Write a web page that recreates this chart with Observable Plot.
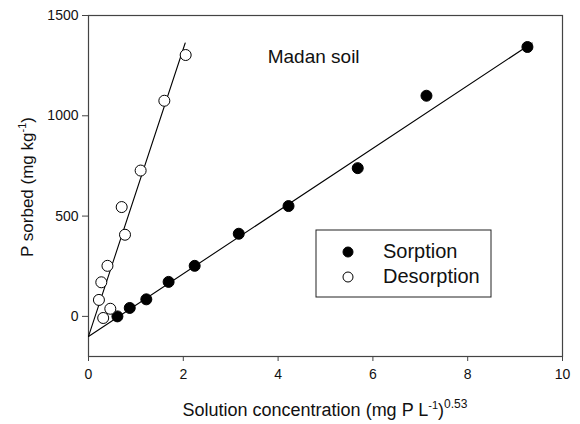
<!DOCTYPE html>
<html>
<head>
<meta charset="utf-8">
<script src="https://cdn.jsdelivr.net/npm/d3@7"></script>
<script src="https://cdn.jsdelivr.net/npm/@observablehq/plot@0.6"></script>
<style>
  html, body { margin: 0; padding: 0; background: #fff; }
  svg { font-family: "Liberation Sans", Arial, sans-serif; }
</style>
</head>
<body>
<div id="chart"></div>
<script>
// Data
const sorptionX = [0.61, 0.87, 1.22, 1.69, 2.24, 3.17, 4.22, 5.68, 7.13, 9.26];
const sorptionY = [0, 42, 85, 172, 252, 412, 550, 739, 1100, 1343];
const desorptionX = [0.31, 0.46, 0.22, 0.27, 0.40, 0.77, 0.70, 1.10, 1.60, 2.05];
const desorptionY = [-8, 38, 82, 170, 252, 407, 545, 727, 1075, 1303];
// Fitted lines: [intercept, slope, xEnd]
const sorptionFit = [-100, 156.3, 9.36];
const desorptionFit = [-100, 717, 2.04];
const xTicks = [0, 2, 4, 6, 8, 10];
const yTicks = [0, 500, 1000, 1500];
const seriesNames = ["Sorption", "Desorption"];
const titleText = "Madan soil";

const sorption = sorptionX.map((x, i) => ({x, y: sorptionY[i]}));
const desorption = desorptionX.map((x, i) => ({x, y: desorptionY[i]}));
const fitLine = ([b, m, xe]) => [{x: 0, y: b}, {x: xe, y: b + m * xe}];

const W = 580, H = 424;
const chart = Plot.plot({
  width: W, height: H,
  marginLeft: 88, marginRight: 18, marginTop: 15, marginBottom: 68,
  style: {fontFamily: '"Liberation Sans", Arial, sans-serif', background: "#fff"},
  x: {domain: [0, 10]},
  y: {domain: [-200, 1500]},
  marks: [
    Plot.frame({stroke: "#444", strokeWidth: 1.2}),
    Plot.axisX({ticks: xTicks, tickSize: 5, tickPadding: 8, fontSize: 14, label: null, stroke: "#444", color: "#111", tickFormat: d3.format("d")}),
    Plot.axisY({ticks: yTicks, tickSize: 6, tickPadding: 4, fontSize: 14, label: null, stroke: "#444", color: "#111", tickFormat: d3.format("d")}),
    Plot.line(fitLine(sorptionFit), {x: "x", y: "y", stroke: "#000", strokeWidth: 1.1}),
    Plot.line(fitLine(desorptionFit), {x: "x", y: "y", stroke: "#000", strokeWidth: 1.1}),
    Plot.dot(sorption, {x: "x", y: "y", r: 5.5, fill: "#000", stroke: "#000", strokeWidth: 1}),
    Plot.dot(desorption, {x: "x", y: "y", r: 5.5, fill: "#fff", stroke: "#000", strokeWidth: 1}),
    Plot.text([titleText], {x: 4.75, y: 1295, text: d => d, fontSize: 19, fill: "#111", textAnchor: "middle"})
  ]
});
document.getElementById("chart").appendChild(chart);

const svg = d3.select(chart);
// X axis label with superscripts
const xl = svg.append("text").attr("x", 325).attr("y", 416).attr("text-anchor", "middle")
  .attr("font-size", 18).attr("fill", "#111");
xl.append("tspan").text("Solution concentration (mg P L");
xl.append("tspan").attr("font-size", 11).attr("dy", -7).text("-1");
xl.append("tspan").attr("dy", 7).text(")");
xl.append("tspan").attr("font-size", 12).attr("dy", -8).text("0.53");

// Y axis label
const yl = svg.append("text").attr("transform", "translate(33,187) rotate(-90)").attr("text-anchor", "middle")
  .attr("font-size", 17).attr("fill", "#111");
yl.append("tspan").text("P sorbed (mg kg");
yl.append("tspan").attr("font-size", 11).attr("dy", -7).text("-1");
yl.append("tspan").attr("dy", 7).text(")");

// Legend
const lg = svg.append("g");
lg.append("rect").attr("x", 316).attr("y", 230).attr("width", 175).attr("height", 67)
  .attr("fill", "#fff").attr("stroke", "#222").attr("stroke-width", 1);
seriesNames.forEach((name, i) => {
  const cy = 252 + i * 25;
  lg.append("circle").attr("cx", 348).attr("cy", cy).attr("r", 5)
    .attr("fill", i === 0 ? "#000" : "#fff").attr("stroke", "#000");
  lg.append("text").attr("x", 383).attr("y", cy + 6).attr("text-anchor", "start")
    .attr("font-size", 20).attr("fill", "#111").text(name);
});
</script>
</body>
</html>
